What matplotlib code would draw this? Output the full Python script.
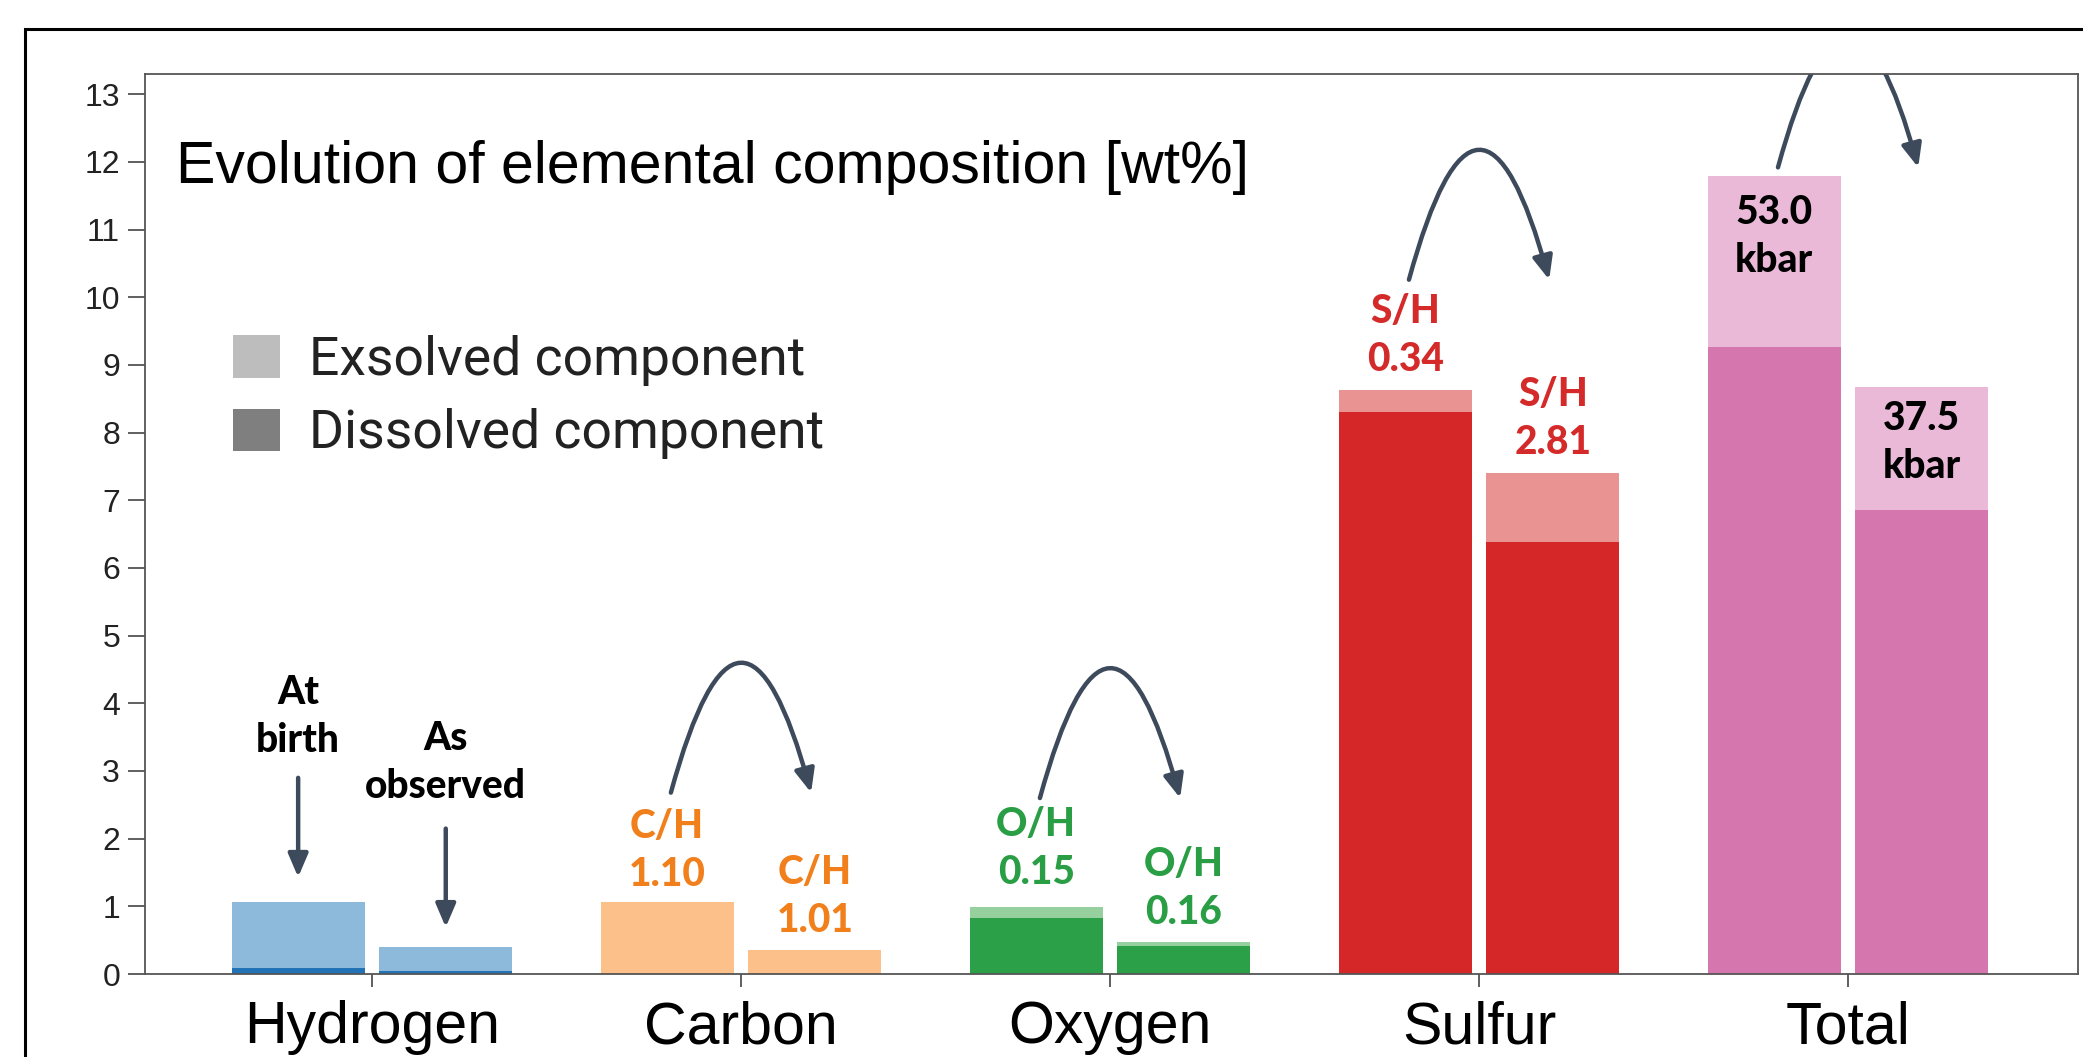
import numpy as np
import matplotlib.pyplot as plt
from matplotlib.patches import Patch, Rectangle, FancyArrowPatch
from matplotlib.path import Path

# Daten (wt%)
groups = ['Hydrogen', 'Carbon', 'Oxygen', 'Sulfur', 'Total']
dark_cols = ['#2273b5', '#ff7f0e', '#2ca048', '#d62728', '#d676ae']
light_cols = ['#8dbada', '#fcc08a', '#96d09f', '#ea9393', '#ebb9d8']

dissolved_birth = [0.09, 0.0, 0.83, 8.30, 9.26]
total_birth = [1.07, 1.07, 0.99, 8.63, 11.79]
dissolved_obs = [0.04, 0.0, 0.41, 6.39, 6.86]
total_obs = [0.40, 0.36, 0.47, 7.40, 8.67]

label_birth = ['', 'C/H\n1.10', 'O/H\n0.15', 'S/H\n0.34', '53.0\nkbar']
label_obs = ['', 'C/H\n1.01', 'O/H\n0.16', 'S/H\n2.81', '37.5\nkbar']
label_y_birth = [0, 1.83, 1.86, 9.44, 10.9]
label_y_obs = [0, 1.14, 1.27, 8.21, 7.86]
label_colors = ['k', '#f07f1c', '#2a9e45', '#d42a2a', 'k']

arc_base = [None, 2.68, 2.60, 10.26, 11.92]
arc_height = 1.9

arrow_col = '#3d4a5c'
bold_font = 'Lato'
lab_kw = dict(ha='center', va='center', fontsize=28, fontweight='black',
              family=bold_font, linespacing=1.37)
arr_style = '-|>,head_length=0.7,head_width=0.3'

fig = plt.figure(figsize=(20.83, 10.57), dpi=100)
ax = fig.add_axes([145 / 2083, 1 - 974 / 1057, 1933 / 2083, 900 / 1057])

x = np.arange(len(groups))
off = 0.2
w = 0.36

for i in range(len(groups)):
    ax.bar(x[i] - off, total_birth[i], w, color=light_cols[i], lw=0)
    ax.bar(x[i] - off, dissolved_birth[i], w, color=dark_cols[i], lw=0)
    ax.bar(x[i] + off, total_obs[i], w, color=light_cols[i], lw=0)
    ax.bar(x[i] + off, dissolved_obs[i], w, color=dark_cols[i], lw=0)

    if label_birth[i]:
        ax.text(x[i] - off, label_y_birth[i], label_birth[i], color=label_colors[i], **lab_kw)
        ax.text(x[i] + off, label_y_obs[i], label_obs[i], color=label_colors[i], **lab_kw)

    if arc_base[i] is not None:
        y0 = arc_base[i]
        p = Path([(x[i] - 0.19, y0), (x[i], y0 + 2 * arc_height), (x[i] + 0.19, y0)],
                 [Path.MOVETO, Path.CURVE3, Path.CURVE3])
        arr = FancyArrowPatch(path=p, arrowstyle=arr_style,
                              mutation_scale=20, color=arrow_col, lw=3.2)
        ax.add_patch(arr)

# Hydrogen: At birth / As observed
ax.text(x[0] - off, 3.8, 'At\nbirth', color='k', **lab_kw)
ax.text(x[0] + off, 3.12, 'As\nobserved', color='k', **lab_kw)
ax.annotate('', xy=(x[0] - off, 1.39), xytext=(x[0] - off, 2.94),
            arrowprops=dict(arrowstyle=arr_style, mutation_scale=20, color=arrow_col, lw=3.2))
ax.annotate('', xy=(x[0] + off, 0.65), xytext=(x[0] + off, 2.19),
            arrowprops=dict(arrowstyle=arr_style, mutation_scale=20, color=arrow_col, lw=3.2))

ax.set_xlim(-0.615, 4.623)
ax.set_ylim(0, 13.3)
ax.set_yticks(range(14))
ax.set_xticks(x)
ax.set_xticklabels(groups, fontsize=42.5, family='Liberation Sans')
for t in ax.get_yticklabels():
    t.set_fontsize(23)
    t.set_family('Liberation Sans')
    t.set_color('#222222')
ax.tick_params(axis='y', length=12, width=1.2, color='#444444', pad=6)
ax.tick_params(axis='x', length=9, width=1.2, color='#444444', pad=10)
for s in ax.spines.values():
    s.set_color('#555555')
    s.set_linewidth(1.3)

ax.text(0.016, 0.879, 'Evolution of elemental composition [wt%]', transform=ax.transAxes,
        ha='left', va='baseline', fontsize=42.5, family='Liberation Sans')

handles = [Patch(color='#bdbdbd', lw=0), Patch(color='#7f7f7f', lw=0)]
ax.legend(handles, ['Exsolved component', 'Dissolved component'], loc='upper left',
          bbox_to_anchor=(88 / 1933, (974 - 335) / 900), frameon=False,
          prop={'family': 'Roboto', 'size': 38.5}, handlelength=0.88, handleheight=0.85,
          handletextpad=0.55, labelspacing=0.42, borderpad=0, borderaxespad=0,
          labelcolor='#222222')

# außenrahmen
fig.add_artist(Rectangle((25 / 2083, -0.5), 2, 1.5 - 29 / 1057, transform=fig.transFigure,
                         fill=False, lw=2.2, color='black'))

plt.savefig('out.png', dpi=100)
